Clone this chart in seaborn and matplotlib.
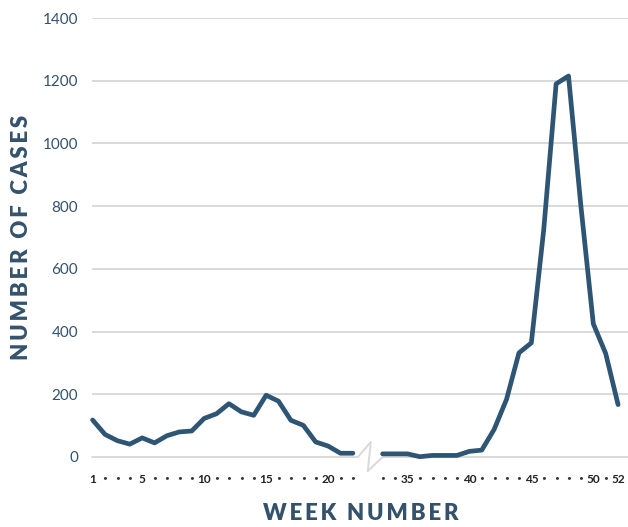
import matplotlib
matplotlib.use("Agg")
import matplotlib.pyplot as plt
import seaborn as sns
import pandas as pd
import numpy as np

# weekly case counts, two observed periods with a break in between
weeks_early = list(range(1, 23))
cases_early = [118, 72, 52, 41, 61, 45, 68, 80, 83, 123, 138, 170, 144, 133,
               197, 178, 117, 101, 48, 35, 12, 12]
weeks_late = list(range(33, 53))
cases_late = [10, 10, 10, 1, 5, 5, 5, 18, 22, 88, 184, 332, 364, 725,
              1190, 1215, 800, 425, 330, 167]
labeled_weeks = [1, 5, 10, 15, 20, 35, 40, 45, 50, 52]
y_ticks = [0, 200, 400, 600, 800, 1000, 1200, 1400]

GAP = 2.4  # visual gap (in week slots) between week 22 and week 33
LINE = "#2e5674"
TEXT = "#34526c"
GRID = "#d9d9d9"

sns.set_theme(style="white")
plt.rcParams["font.family"] = ["Lato", "DejaVu Sans"]


def pos(week):
    return week - 1 if week <= 22 else week - 33 + 21 + GAP


df = pd.DataFrame({
    "week": weeks_early + weeks_late,
    "cases": cases_early + cases_late,
    "segment": ["early"] * len(weeks_early) + ["late"] * len(weeks_late),
})
df["pos"] = df["week"].apply(pos)

fig = plt.figure(figsize=(6.28, 5.27), dpi=100)
ax = fig.add_axes([92 / 628, 70 / 527, 536 / 628, 439 / 527])

# horizontal gridlines (zero line drawn with a break marker)
for v in y_ticks[1:]:
    ax.axhline(v, color=GRID, lw=1.4, zorder=0)
x_lo, x_hi = -0.05, 43.2
brk = [(x_lo, 0), (21.4, 0), (22.45, 48), (22.2, -45), (23.4, 0), (x_hi, 0)]
ax.plot([p[0] for p in brk], [p[1] for p in brk], color=GRID, lw=1.4,
        zorder=0, clip_on=False)

sns.lineplot(data=df, x="pos", y="cases", units="segment", estimator=None,
             color=LINE, lw=3.4, ax=ax, clip_on=False, zorder=3)

ax.set_xlim(x_lo, x_hi)
ax.set_ylim(0, 1400)
ax.set_yticks(y_ticks)
ax.set_yticklabels([str(v) for v in y_ticks], fontsize=11, color=TEXT)

all_weeks = weeks_early + weeks_late
ax.set_xticks([pos(w) for w in all_weeks])
xlabels = [str(w) if w in labeled_weeks else "•" for w in all_weeks]
ax.set_xticklabels(xlabels, color="#222222")
for t, w in zip(ax.get_xticklabels(), all_weeks):
    if w in labeled_weeks:
        t.set_fontsize(8.5)
        t.set_fontweight("bold")
    else:
        t.set_fontsize(6)
        t.set_color("#333333")

ax.tick_params(axis="both", length=0)
ax.tick_params(axis="y", pad=10)
ax.tick_params(axis="x", pad=12)
for s in ax.spines.values():
    s.set_visible(False)
ax.set_xlabel("")
ax.set_ylabel("")

fig.text(22 / 628, 1 - 237 / 527, "\u2009".join("NUMBER OF CASES"),
         rotation=90, ha="center", va="center", fontsize=16,
         fontweight="heavy", color=TEXT)
fig.text(361 / 628, 1 - 514 / 527, "\u2009".join("WEEK NUMBER"),
         ha="center", va="center", fontsize=16, fontweight="heavy", color=TEXT)

fig.savefig("out.png", dpi=100)
